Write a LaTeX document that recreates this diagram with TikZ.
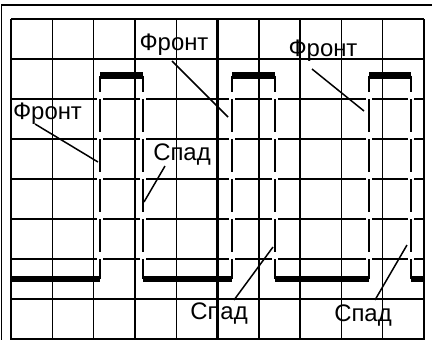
\documentclass[tikz,border=0pt]{standalone}
\usepackage{fontspec}
\setmainfont{Liberation Sans}
\begin{document}
\begin{tikzpicture}[x=1bp,y=-1bp,
  frameline/.style={line width=1.6bp,black},
  gridline/.style={line width=1.4bp,black},
  axisline/.style={line width=2.8bp,black},
  level/.style={line width=6.5bp,black},
  edgehalo/.style={line width=6bp,white},
  edgeline/.style={line width=2.4bp,black,dash pattern=on 33bp off 7bp,dash phase=16.5bp},
  leader/.style={line width=1.5bp,black},
  lbl/.style={font=\fontsize{24}{27}\selectfont,inner sep=0pt,anchor=base}]

\useasboundingbox (0,0) rectangle (432,340);
\clip (0,0) rectangle (432,340);

% outer frame
\draw[frameline] (1.5,345) -- (1.5,5) -- (440,5);

% screen grid: 10 x 8 divisions
\foreach \i in {0,...,10}
  \draw[gridline] ({11+41.3*\i},19) -- ({11+41.3*\i},345);
\foreach \j in {0,...,8}
  \draw[gridline] (11,{19+40*\j}) -- (424,{19+40*\j});

% centre axes
\draw[axisline] (217.5,19) -- (217.5,345);
\draw[axisline] (11,179) -- (424,179);

% corners of the pulse train
\coordinate (l0) at (11,279);
\coordinate (r1b) at (100,279);  \coordinate (r1t) at (100,75.5);
\coordinate (d1t) at (143,75.5); \coordinate (d1b) at (143,279);
\coordinate (r2b) at (232,279);  \coordinate (r2t) at (232,75.5);
\coordinate (d2t) at (275,75.5); \coordinate (d2b) at (275,279);
\coordinate (r3b) at (369,279);  \coordinate (r3t) at (369,75.5);
\coordinate (d3t) at (411,75.5); \coordinate (d3b) at (411,279);
\coordinate (l4) at (424,279);

% white halo under the edges
\foreach \a/\b in {r1t/r1b,d1t/d1b,r2t/r2b,d2t/d2b,r3t/r3b,d3t/d3b}
  \draw[edgehalo] (\a) -- (\b);

% flat levels
\draw[level] (l0) -- (r1b);
\draw[level] (r1t) -- (d1t);
\draw[level] (d1b) -- (r2b);
\draw[level] (r2t) -- (d2t);
\draw[level] (d2b) -- (r3b);
\draw[level] (r3t) -- (d3t);
\draw[level] (d3b) -- (l4);

% dashed edges, drawn top to bottom
\foreach \a/\b in {r1t/r1b,d1t/d1b,r2t/r2b,d2t/d2b,r3t/r3b,d3t/d3b}
  \draw[edgeline] (\a) -- (\b);

% labels
\node[lbl] (f1) at (174,50) {Фронт};
\node[lbl] (f2) at (323,56) {Фронт};
\node[lbl] (f3) at (47.5,119) {Фронт};
\node[lbl] (s1) at (182,160) {Спад};
\node[lbl] (s2) at (219,319) {Спад};
\node[lbl] (s3) at (363,321) {Спад};

% leader lines
\coordinate (f1a) at (172,61);  \coordinate (f1b) at (228,117);
\coordinate (f2a) at (312,69);  \coordinate (f2b) at (364,111);
\coordinate (f3a) at (35,124);  \coordinate (f3b) at (98,162);
\coordinate (s1a) at (165,166); \coordinate (s1b) at (144,202);
\coordinate (s2a) at (234,300); \coordinate (s2b) at (273,247);
\coordinate (s3a) at (375,300); \coordinate (s3b) at (407,245);
\foreach \a/\b in {f1a/f1b,f2a/f2b,f3a/f3b,s1a/s1b,s2a/s2b,s3a/s3b}
  \draw[leader] (\a) -- (\b);
\end{tikzpicture}
\end{document}
